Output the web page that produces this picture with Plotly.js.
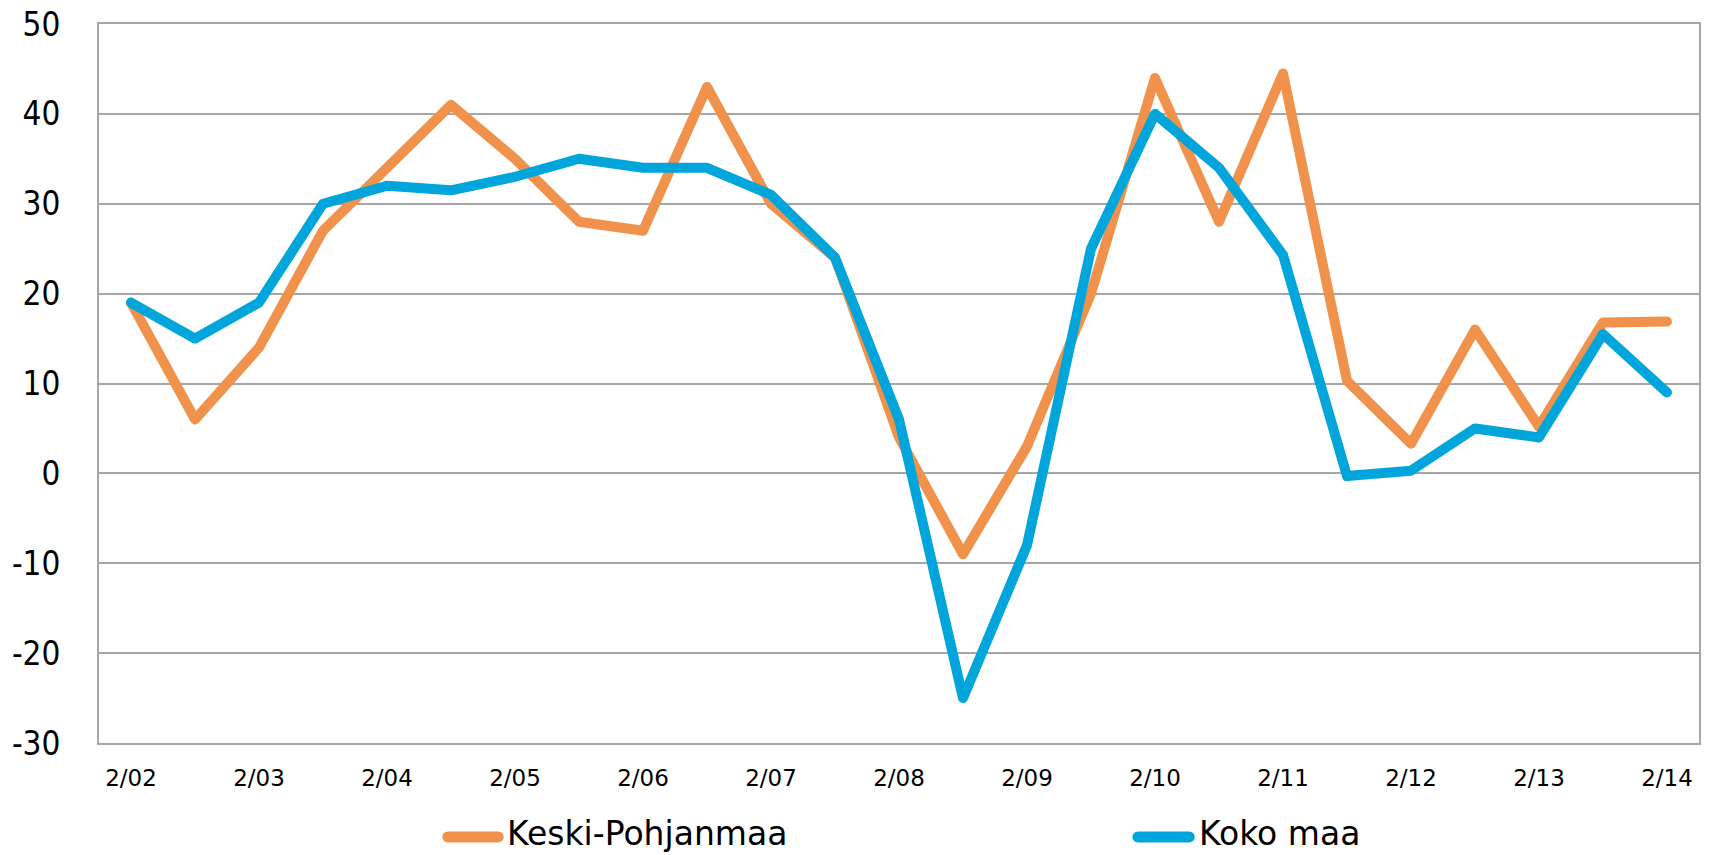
<!DOCTYPE html>
<html>
<head>
<meta charset="utf-8">
<script src="https://cdn.plot.ly/plotly-3.0.1.min.js"></script>
<style>
html, body { margin: 0; padding: 0; background: #ffffff; }
#chart { width: 1712px; height: 855px; }
#chart path.js-line { stroke-linejoin: round !important; stroke-linecap: round !important; }
#chart .shapelayer path { stroke-linecap: round !important; }
</style>
</head>
<body>
<div id="chart"></div>
<script>
// Periods (every half-year); labelled ticks only at February points
const periods = ["2/02","8/02","2/03","8/03","2/04","8/04","2/05","8/05","2/06","8/06",
                 "2/07","8/07","2/08","8/08","2/09","8/09","2/10","8/10","2/11","8/11",
                 "2/12","8/12","2/13","8/13","2/14"];
const tickLabels = ["2/02","2/03","2/04","2/05","2/06","2/07","2/08","2/09","2/10","2/11","2/12","2/13","2/14"];

const seriesNames = ["Keski-Pohjanmaa", "Koko maa"];
const keskiPohjanmaa = [19, 6, 14, 27, 34, 41, 35, 28, 27, 43,
                        30, 24, 4, -9, 3, 20, 44, 28, 44.5, 10.3,
                        3.3, 16, 5.2, 16.8, 16.9];
const kokoMaa = [19, 15, 19, 30, 32, 31.5, 33, 35, 34, 34,
                 31, 24, 6, -25, -8, 25, 40, 34, 24.3, -0.3,
                 0.3, 5, 4, 15.5, 9];

const yTicks = [-30, -20, -10, 0, 10, 20, 30, 40, 50];
const yTickText = ["-30", "-20", "-10", "0", "10", "20", "30", "40", "50"];

const FONT_C = "DejaVu Sans Condensed, DejaVu Sans, sans-serif";
const FONT = "DejaVu Sans, sans-serif";
const GRID = "#A6A6A6";
const COLORS = ["#F0924B", "#00A5DB"];

const traces = [
  {
    x: periods, y: keskiPohjanmaa, type: "scatter", mode: "lines",
    name: seriesNames[0],
    line: { color: COLORS[0], width: 10 }
  },
  {
    x: periods, y: kokoMaa, type: "scatter", mode: "lines",
    name: seriesNames[1],
    line: { color: COLORS[1], width: 10 }
  }
];

// Legend drawn below the plot (paper coordinates)
const legendY = -0.1307;
const legendItems = [
  { x0: 0.2180, x1: 0.2495, tx: 0.2540 },
  { x0: 0.6493, x1: 0.6814, tx: 0.6860 }
];
const shapes = legendItems.map((it, i) => ({
  type: "line", xref: "paper", yref: "paper",
  x0: it.x0, x1: it.x1, y0: legendY, y1: legendY,
  line: { color: COLORS[i], width: 11 }
}));
const annotations = legendItems.map((it, i) => ({
  xref: "paper", yref: "paper", x: it.tx, y: -0.1262,
  xanchor: "left", yanchor: "middle", showarrow: false,
  text: seriesNames[i],
  font: { family: FONT, size: 33, color: "#000000" }
}));

const layout = {
  width: 1712, height: 855,
  margin: { l: 99, r: 13, t: 24, b: 112 },
  paper_bgcolor: "#ffffff", plot_bgcolor: "#ffffff",
  font: { family: FONT, color: "#000000" },
  showlegend: false,
  shapes: shapes,
  annotations: annotations,
  xaxis: {
    type: "category",
    range: [-0.5, periods.length - 0.5],
    tickmode: "array",
    tickvals: tickLabels,
    ticktext: tickLabels,
    ticks: "",
    showgrid: false,
    zeroline: false,
    showline: true, mirror: true, linecolor: GRID, linewidth: 2,
    tickfont: { family: FONT, size: 23, color: "#000000" },
    ticklabelstandoff: 13,
    fixedrange: true
  },
  yaxis: {
    range: [-30, 50],
    tickmode: "array",
    tickvals: yTicks,
    ticktext: yTickText,
    ticks: "",
    showgrid: true, gridcolor: GRID, gridwidth: 2,
    zeroline: false,
    showline: true, mirror: true, linecolor: GRID, linewidth: 2,
    tickfont: { family: FONT_C, size: 33, color: "#000000" },
    ticklabelstandoff: 30,
    fixedrange: true
  }
};

Plotly.newPlot("chart", traces, layout, { displayModeBar: false, staticPlot: true });
</script>
</body>
</html>
